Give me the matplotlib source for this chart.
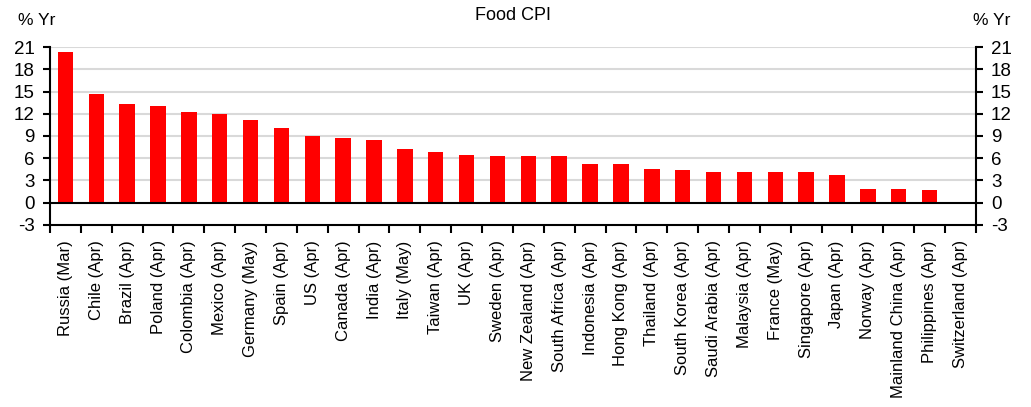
import numpy as np
import matplotlib
matplotlib.use("Agg")
import matplotlib.pyplot as plt

plt.rcParams['font.family'] = ['Liberation Sans', 'DejaVu Sans']

# Food CPI, % y/y, latest month per country
countries = ['Russia (Mar)', 'Chile (Apr)', 'Brazil (Apr)', 'Poland (Apr)', 'Colombia (Apr)',
             'Mexico (Apr)', 'Germany (May)', 'Spain (Apr)', 'US (Apr)', 'Canada (Apr)',
             'India (Apr)', 'Italy (May)', 'Taiwan (Apr)', 'UK (Apr)', 'Sweden (Apr)',
             'New Zealand (Apr)', 'South Africa (Apr)', 'Indonesia (Apr)', 'Hong Kong (Apr)',
             'Thailand (Apr)', 'South Korea (Apr)', 'Saudi Arabia (Apr)', 'Malaysia (Apr)',
             'France (May)', 'Singapore (Apr)', 'Japan (Apr)', 'Norway (Apr)',
             'Mainland China (Apr)', 'Philippines (Apr)', 'Switzerland (Apr)']
food_cpi = [20.3, 14.7, 13.3, 13.0, 12.2,
            12.0, 11.2, 10.1, 9.0, 8.7,
            8.4, 7.3, 6.8, 6.5, 6.3,
            6.3, 6.3, 5.2, 5.2,
            4.6, 4.4, 4.1, 4.1,
            4.1, 4.1, 3.8, 1.9,
            1.9, 1.7, 0.1]
yticks = [-3, 0, 3, 6, 9, 12, 15, 18, 21]

fig = plt.figure(figsize=(10.31, 4.07), dpi=100)
ax = fig.add_axes([0.0485, 0.4472, 0.898, 0.4373])

x = np.arange(len(countries))
ax.bar(x, food_cpi, width=0.5, color='#ff0000', zorder=3)

ax.set_xlim(-0.5, len(countries) - 0.5)
ax.set_ylim(-3, 21)
ax.set_yticks(yticks)
ax.set_yticklabels([str(t) for t in yticks])
for t in yticks[2:]:
    ax.axhline(t, color='#d9d9d9', lw=1.5, zorder=1)
ax.axhline(0, color='black', lw=1.5, zorder=4)

# category labels between the boundary ticks
ax.set_xticks(x)
ax.set_xticklabels(countries, rotation=90, fontsize=12)
ax.set_xticks(np.arange(-0.5, len(countries), 1.0), minor=True)
ax.tick_params(axis='x', which='major', length=0, pad=11)
ax.tick_params(axis='x', which='minor', length=6, width=1.5, direction='out')
ax.tick_params(axis='y', which='major', length=5, width=1.5, direction='out',
               left=True, right=True, labelleft=True, labelright=True,
               labelsize=13.5, pad=6)

ax.spines['top'].set_visible(False)
for s in ['left', 'right', 'bottom']:
    ax.spines[s].set_linewidth(1.5)

fig.text(0.498, 0.963, 'Food CPI', ha='center', va='center', fontsize=13)
fig.text(0.0175, 0.95, '% Yr', ha='left', va='center', fontsize=12.5)
fig.text(0.98, 0.95, '% Yr', ha='right', va='center', fontsize=12.5)

fig.savefig('out.png', dpi=100)
